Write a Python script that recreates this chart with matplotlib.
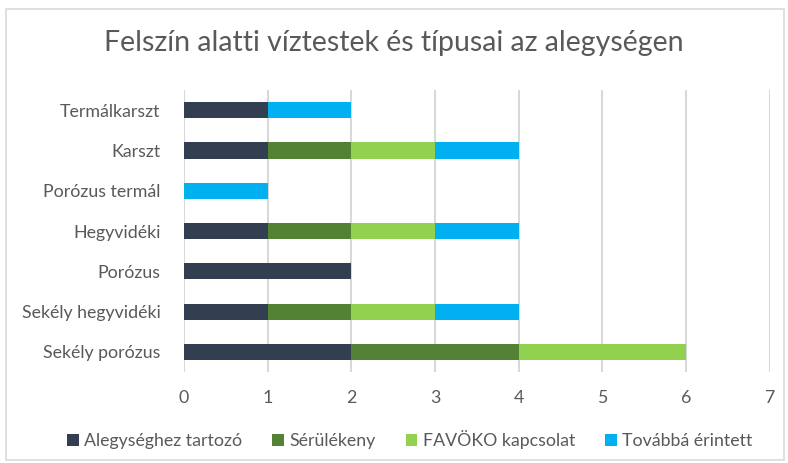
import matplotlib.pyplot as plt
from matplotlib.patches import Rectangle
import numpy as np

plt.rcParams['font.family'] = ['Lato', 'DejaVu Sans']

categories = ['Termálkarszt', 'Karszt', 'Porózus termál', 'Hegyvidéki',
              'Porózus', 'Sekély hegyvidéki', 'Sekély porózus']
series_names = ['Alegységhez tartozó', 'Sérülékeny', 'FAVÖKO kapcsolat', 'Továbbá érintett']
alegyseg = [1, 1, 0, 1, 2, 1, 2]
serulekeny = [0, 1, 0, 1, 0, 1, 2]
favoko = [0, 1, 0, 1, 0, 1, 2]
tovabba = [1, 1, 1, 1, 0, 1, 0]
colors = ['#333F50', '#548235', '#92D050', '#00B0F0']

fig = plt.figure(figsize=(7.88, 4.63), dpi=100)
fig.patches.append(Rectangle((6 / 788, 3 / 463), 778 / 788, 451 / 463,
                             transform=fig.transFigure, fill=False,
                             edgecolor='#D9D9D9', linewidth=1.2))
ax = fig.add_axes([0.2335, 0.1965, 0.7435, 0.609])

y = np.arange(len(categories))
left = np.zeros(len(categories))
for name, vals, c in zip(series_names, [alegyseg, serulekeny, favoko, tovabba], colors):
    ax.barh(y, vals, left=left, height=0.4, color=c, label=name, zorder=3)
    left += np.array(vals)

ax.set_xlim(0, 7)
ax.set_ylim(len(categories) - 0.5, -0.5)
ax.set_yticks(y)
ax.set_yticklabels(categories)
ax.set_xticks(range(8))
ax.grid(axis='x', color='#D9D9D9', linewidth=1.5, zorder=0)
for s in ax.spines.values():
    s.set_visible(False)
ax.tick_params(length=0, labelsize=12.8, colors='#595959')
ax.tick_params(axis='y', pad=17)
ax.tick_params(axis='x', pad=13)

fig.suptitle('Felszín alatti víztestek és típusai az alegységen', y=0.935,
             fontsize=20.5, color='#595959')
fig.legend(loc='center', bbox_to_anchor=(0.52, 0.05), ncol=4, frameon=False,
           fontsize=12.8, labelcolor='#595959', handlelength=0.65, handleheight=0.65,
           handletextpad=0.3, columnspacing=1.7)

fig.savefig('out.png', dpi=100)
